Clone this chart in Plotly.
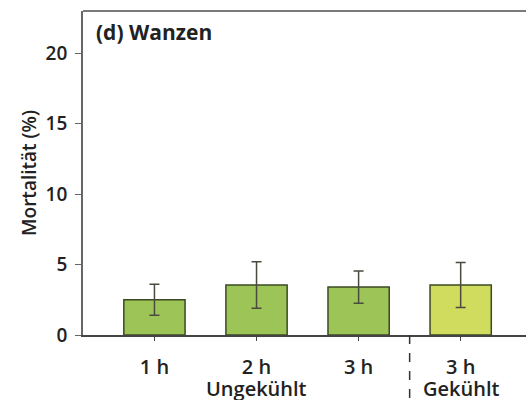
import plotly.graph_objects as go

categories = ["1 h", "2 h", "3 h", "3 h "]
tick_labels = ["1 h", "2 h", "3 h", "3 h"]
group_labels = ["Ungekühlt", "Gekühlt"]
group_positions = ["2 h", "3 h "]
mortality = [2.5, 3.55, 3.4, 3.55]
error = [1.1, 1.65, 1.15, 1.6]
bar_colors = ["#9cc457", "#9cc457", "#9cc457", "#cfdc5e"]
y_ticks = [0, 5, 10, 15, 20]

font_family = "Open Sans, Lato, sans-serif"

fig = go.Figure()
fig.add_trace(go.Bar(
    x=categories, y=mortality,
    marker=dict(color=bar_colors, line=dict(color="#3b4a22", width=1.5)),
    width=0.6,
    error_y=dict(type="data", array=error, visible=True, color="#4a4a40", thickness=1.5, width=5),
    showlegend=False,
))

fig.add_shape(type="line", xref="x", yref="paper", x0=2.5, x1=2.5, y0=0, y1=-0.25,
              line=dict(color="#333", width=1.5, dash="dash"))
fig.add_shape(type="line", xref="paper", yref="paper", x0=0, x1=1, y0=1, y1=1,
              line=dict(color="#7a7a7a", width=2))

for lbl, pos in zip(group_labels, group_positions):
    fig.add_annotation(text=lbl, xref="x", yref="paper", x=pos, y=-0.164,
                       xanchor="center", yanchor="middle", showarrow=False,
                       font=dict(size=20, color="#222", family=font_family, weight=600))

fig.add_annotation(text="<b>(d) Wanzen</b>", xref="paper", yref="paper", x=0.025, y=0.985,
                   xanchor="left", yanchor="top", showarrow=False,
                   font=dict(size=21, color="#222", family=font_family))

fig.update_layout(
    width=526, height=400,
    margin=dict(l=83, r=0, t=11, b=65),
    paper_bgcolor="white", plot_bgcolor="white",
    font=dict(family=font_family, color="#222"),
    bargap=0.4,
)
fig.update_xaxes(
    range=[-0.7, 3.64], tickvals=categories, ticktext=tick_labels,
    showline=True, linecolor="#444", linewidth=1.5,
    ticks="outside", ticklen=4, tickcolor="#444",
    tickfont=dict(size=20, family=font_family, color="#222", weight=600),
    ticklabelstandoff=9,
    showgrid=False,
)
fig.update_yaxes(
    range=[0, 23], tickvals=y_ticks,
    showline=True, linecolor="#666", linewidth=1.8,
    ticks="outside", ticklen=6, tickcolor="#666",
    tickfont=dict(size=19, family=font_family, color="#222", weight=600),
    ticklabelstandoff=4,
    showgrid=False, zeroline=False,
    title=dict(text="Mortalität (%)", font=dict(size=19, family=font_family, color="#222", weight=600), standoff=4),
)

fig.write_html("out.html", config={"displayModeBar": False},
               post_script="document.body.style.margin='0px';document.body.style.overflow='hidden';")
